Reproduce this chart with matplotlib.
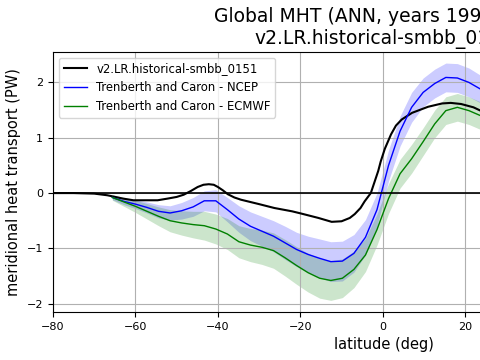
import numpy as np
import matplotlib
matplotlib.use('Agg')
import matplotlib.pyplot as plt

# model (smooth curve)
lat_mod = [-85, -80, -75, -70, -66.8, -63, -60.5, -57, -54.6, -52.2, -50, -48.3, -46.5,
           -44.9, -43.5, -42.2, -41, -40, -38.8, -37.6, -36, -34.4, -30, -26.3, -22,
           -19.8, -15.6, -12.4, -10, -8, -6.8, -5.4, -4.4, -2.9, -1.1, -0.5, 0.5, 2.0,
           3.2, 4.6, 7.1, 11, 14.4, 16.5, 19, 22, 24, 27]
mht_mod = [0, 0, 0, -0.01, -0.04, -0.1, -0.13, -0.13, -0.13, -0.1, -0.07, -0.03, 0.04,
           0.11, 0.15, 0.16, 0.15, 0.11, 0.05, -0.02, -0.08, -0.12, -0.2, -0.27, -0.33,
           -0.37, -0.45, -0.52, -0.51, -0.45, -0.38, -0.27, -0.15, 0.0, 0.4, 0.57, 0.8, 1.06,
           1.22, 1.33, 1.45, 1.56, 1.62, 1.63, 1.61, 1.55, 1.48, 1.38]

# Trenberth and Caron obs
lat_obs = [-65.6, -62.8, -60.0, -57.2, -54.4, -51.6, -48.8, -46.0, -43.3, -40.5, -37.7,
           -34.9, -32.1, -29.3, -26.5, -23.7, -20.9, -18.1, -15.3, -12.6, -9.8, -7.0,
           -4.2, -1.4, 1.4, 4.2, 7.0, 9.8, 12.6, 15.3, 18.1, 20.9, 23.7, 26.5]
ncep = [-0.08, -0.15, -0.20, -0.26, -0.33, -0.36, -0.32, -0.25, -0.14, -0.14, -0.30,
        -0.47, -0.60, -0.69, -0.78, -0.90, -1.02, -1.11, -1.18, -1.24, -1.23, -1.09,
        -0.80, -0.30, 0.50, 1.12, 1.55, 1.82, 1.98, 2.09, 2.08, 2.00, 1.88, 1.75]
ncep_err = [0.04, 0.06, 0.08, 0.10, 0.12, 0.13, 0.15, 0.17, 0.18, 0.20, 0.22,
            0.24, 0.26, 0.27, 0.28, 0.30, 0.31, 0.33, 0.35, 0.36, 0.36, 0.34,
            0.32, 0.30, 0.28, 0.27, 0.27, 0.26, 0.26, 0.26, 0.26, 0.26, 0.25, 0.25]
ecmwf = [-0.08, -0.16, -0.24, -0.33, -0.42, -0.50, -0.54, -0.57, -0.59, -0.65, -0.74,
         -0.88, -0.94, -0.98, -1.04, -1.17, -1.31, -1.44, -1.54, -1.58, -1.54, -1.38,
         -1.12, -0.66, -0.10, 0.35, 0.62, 0.93, 1.25, 1.49, 1.55, 1.49, 1.40, 1.30]
ecmwf_err = [0.05, 0.08, 0.11, 0.14, 0.17, 0.20, 0.22, 0.24, 0.26, 0.27, 0.28,
             0.29, 0.30, 0.31, 0.32, 0.33, 0.34, 0.35, 0.36, 0.36, 0.35, 0.33,
             0.30, 0.28, 0.27, 0.26, 0.26, 0.25, 0.25, 0.25, 0.25, 0.25, 0.25, 0.25]

lat_obs = np.array(lat_obs)
ncep = np.array(ncep); ncep_err = np.array(ncep_err)
ecmwf = np.array(ecmwf); ecmwf_err = np.array(ecmwf_err)

fig = plt.figure(figsize=(4.8, 3.6), dpi=100)
# axes run past the right edge, as in the cropped reference
ax = fig.add_axes([53/480, 48/360, 662/480, 260/360])

ax.plot(lat_mod, mht_mod, color='black', lw=1.5, label='v2.LR.historical-smbb_0151')
ax.plot(lat_obs, ncep, color='blue', lw=1, label='Trenberth and Caron - NCEP')
ax.fill_between(lat_obs, ncep - ncep_err, ncep + ncep_err, color='blue', alpha=0.2, lw=0)
ax.plot(lat_obs, ecmwf, color='green', lw=1, label='Trenberth and Caron - ECMWF')
ax.fill_between(lat_obs, ecmwf - ecmwf_err, ecmwf + ecmwf_err, color='green', alpha=0.2, lw=0)
ax.axhline(0, color='black', lw=1.2)

ax.set_xlim(-80, 80.6)
ax.set_ylim(-2.15, 2.55)
ax.set_xticks([-80, -60, -40, -20, 0, 20])
ax.set_yticks([-2, -1, 0, 1, 2])
ax.tick_params(labelsize=8)
ax.grid(True)
ax.set_xlabel('latitude (deg)', fontsize=10.5)
ax.set_ylabel('meridional heat transport (PW)', fontsize=10.5)
ax.set_title('Global MHT (ANN, years 1995-2014)\nv2.LR.historical-smbb_0151', fontsize=13.5)
ax.legend(loc='upper left', fontsize=8.4)

fig.savefig('out.png', dpi=100)
